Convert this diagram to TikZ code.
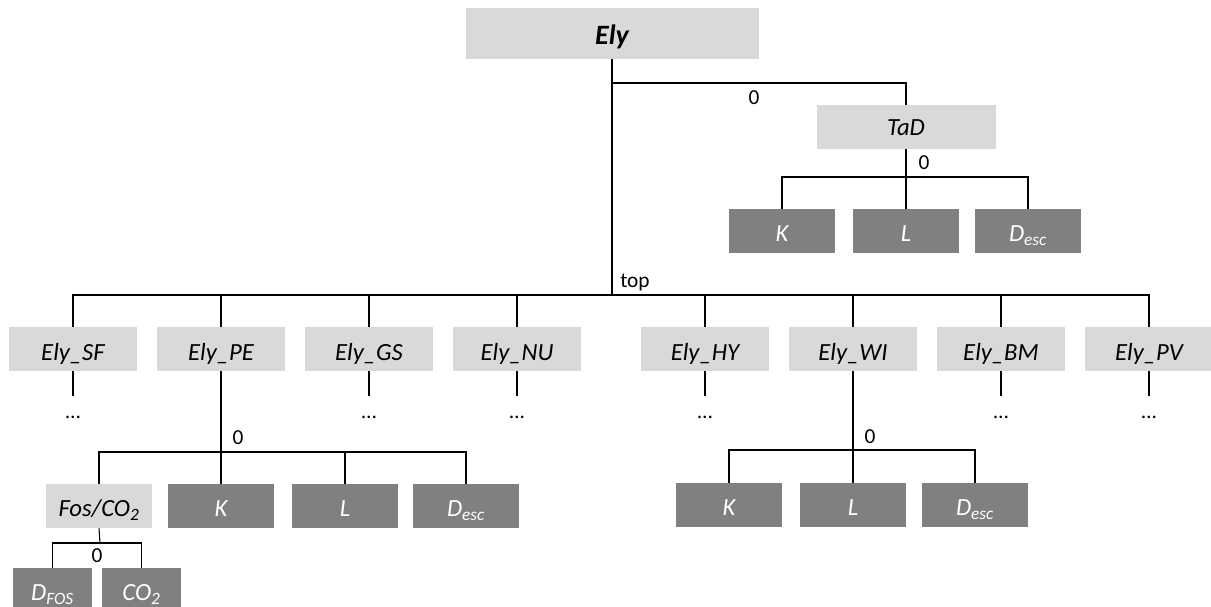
\documentclass[tikz,border=0pt]{standalone}
\usepackage{fontspec}
\setmainfont{Carlito}
\definecolor{boxlight}{HTML}{D9D9D9}
\definecolor{boxdark}{HTML}{808080}

\begin{document}
\begin{tikzpicture}[x=0.75pt, y=-0.75pt,
  light/.style={fill=boxlight, inner sep=0pt, minimum width=96pt, minimum height=33pt,
    text height=17pt, text depth=0pt, font=\fontsize{18.5}{20}\selectfont\itshape},
  dark/.style={light, fill=boxdark, text=white, minimum width=79.5pt, text height=16pt},
  lab/.style={inner sep=0pt, font=\fontsize{16}{18}\selectfont},
  dots/.style={lab, anchor=north, text height=16.5pt, text depth=0pt},
  link/.style={black, line width=0.8pt},
  stem/.style={black, line width=1.3pt}]
\useasboundingbox (0,0) rectangle (1211,607);

% root
\node[light, minimum width=219.75pt, minimum height=38.25pt, text height=15.75pt,
  font=\fontsize{21}{24}\selectfont\bfseries\itshape] (ely) at (612,33.5) {Ely};
\coordinate (tadjoin) at (612,83);
\coordinate (topbus) at (612,295);
\draw[link] (ely.south) -- (topbus);
\node[lab] (zerotad) at (754,98) {0};
\node[lab, anchor=west] (toplab) at (620,282) {top};

% TaD branch
\node[light, minimum width=134.25pt, text height=13pt] (tad) at (906,127) {TaD};
\draw[link] (tadjoin) -| (tad.north);
\coordinate (tadbus) at (906,177);
\node[dark] (tk) at (782,231) {K};
\node[dark] (tl) at (906,231) {L};
\node[dark] (td) at (1028,231) {D\textsubscript{esc}};
\draw[stem] (tad.south) -- (tadbus);
\foreach \n in {tk,tl,td}
  \draw[link] (tadbus) -| (\n.north);
\node[lab] (zerok) at (924,163) {0};

% first level
\foreach \n/\x/\t in {sf/73/Ely\_SF, pe/221/Ely\_PE, gs/369/Ely\_GS, nu/517/Ely\_NU,
    hy/705/Ely\_HY, wi/853/Ely\_WI, bm/1001/Ely\_BM, pv/1149/Ely\_PV}{
  \node[light] (\n) at (\x,349) {\t};
  \draw[link] (topbus) -| (\n.north);
}
\coordinate (dotrow) at (0,396);
\foreach \n in {sf,gs,nu,hy,bm,pv}{
  \node[dots] (dots\n) at (\n.south |- dotrow) {…};
  \draw[link] (\n.south) -- (dots\n.north);
}

% Ely_PE branch
\coordinate (pebus) at (221,452);
\node[light, minimum width=79.5pt, text height=16pt] (fos) at (99,506) {Fos/CO\textsubscript{2}};
\node[dark] (pk) at (221,506) {K};
\node[dark] (pl) at (345,506) {L};
\node[dark] (pd) at (466,506) {D\textsubscript{esc}};
\draw[stem] (pe.south) -- (pebus);
\foreach \n in {fos,pk,pl,pd}
  \draw[link] (pebus) -| (\n.north);
\node[lab] (zerope) at (238,438) {0};

% Fos/CO2 branch
\coordinate (fosbus) at (100,543);
\node[dark, minimum width=59.25pt] (fd) at (52.5,590) {D\textsubscript{FOS}};
\node[dark, minimum width=59.25pt] (fc) at (141.5,590) {CO\textsubscript{2}};
\draw[link] (fos.south) -- (fosbus);
\foreach \n in {fd,fc}
  \draw[link] (fosbus) -| (\n.north);
\node[lab] (zerofos) at (97,556) {0};

% Ely_WI branch
\coordinate (wibus) at (853,450);
\node[dark] (wk) at (729,505) {K};
\node[dark] (wl) at (853,505) {L};
\node[dark] (wd) at (975,505) {D\textsubscript{esc}};
\draw[stem] (wi.south) -- (wibus);
\foreach \n in {wk,wl,wd}
  \draw[link] (wibus) -| (\n.north);
\node[lab] (zerowi) at (870,437) {0};
\end{tikzpicture}
\end{document}
